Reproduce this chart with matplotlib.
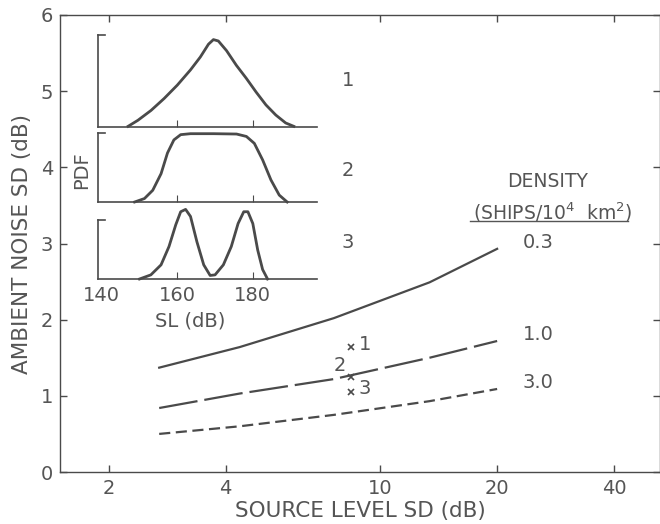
import numpy as np
import matplotlib
matplotlib.use("Agg")
import matplotlib.pyplot as plt
from matplotlib.lines import Line2D

# ambient noise SD vs source level SD, one curve per ship density
density_labels = ["0.3", "1.0", "3.0"]
source_sd = [2.7, 4.35, 7.6, 13.4, 20.0]
ambient_03 = [1.37, 1.64, 2.02, 2.49, 2.93]
ambient_10 = [0.84, 1.03, 1.22, 1.50, 1.72]
ambient_30 = [0.50, 0.60, 0.75, 0.93, 1.09]

# the three source level distributions (marked x1, x2, x3)
case_labels = ["1", "2", "3"]
case_x = [8.4, 8.4, 8.4]
case_y = [1.64, 1.25, 1.05]

# PDF curves (SL in dB, relative height)
pdf1_sl = [146.96, 149.57, 153.04, 156.52, 160.0, 163.48, 166.09, 168.26, 169.57,
           170.87, 173.04, 175.65, 178.26, 180.87, 183.48, 186.09, 188.70, 190.87]
pdf1_val = [0.007, 0.073, 0.18, 0.31, 0.455, 0.62, 0.76, 0.90, 0.95,
            0.935, 0.83, 0.67, 0.53, 0.38, 0.24, 0.13, 0.044, 0.007]
pdf2_sl = [148.7, 151.3, 153.5, 155.7, 157.4, 159.1, 160.9, 163.5, 169.6,
           175.7, 178.3, 180.4, 182.6, 184.8, 187.0, 189.1]
pdf2_val = [0.0, 0.05, 0.17, 0.41, 0.71, 0.90, 0.976, 0.99, 0.99,
            0.985, 0.95, 0.85, 0.61, 0.32, 0.10, 0.0]
pdf3_sl = [150.0, 153.0, 155.7, 157.8, 159.6, 160.9, 162.2, 163.5, 165.2, 167.0,
           168.7, 170.0, 172.2, 174.3, 176.1, 177.6, 178.7, 180.0, 181.3, 182.6, 183.9]
pdf3_val = [0.0, 0.07, 0.24, 0.55, 0.92, 1.14, 1.18, 1.06, 0.63, 0.24,
            0.06, 0.07, 0.24, 0.55, 0.94, 1.14, 1.14, 0.94, 0.49, 0.16, 0.0]

ink = "#4a4a4a"
txt = "#555555"
plt.rcParams["font.family"] = ["DejaVu Sans"]
plt.rcParams["lines.scale_dashes"] = False
fs_tick = 14
fs_lab = 15.5

W, H = 660, 524
fig = plt.figure(figsize=(W / 100, H / 100), dpi=100)

def px_axes(l, t, r, b):
    return fig.add_axes([l / W, 1 - b / H, (r - l) / W, (b - t) / H])

ax = px_axes(60, 15, 660, 472)
ax.plot(source_sd, ambient_03, color=ink, lw=1.6)
ax.plot(source_sd, ambient_10, color=ink, lw=1.6, dashes=(28, 5))
ax.plot(source_sd, ambient_30, color=ink, lw=1.6, dashes=(8, 4))

ax.set_xscale("log")
ax.set_xlim(1.5, 52.5)
ax.set_ylim(0, 6)
ax.set_xticks([2, 4, 10, 20, 40])
ax.set_xticklabels(["2", "4", "10", "20", "40"])
ax.xaxis.set_minor_locator(matplotlib.ticker.NullLocator())
ax.set_yticks(range(7))
ax.tick_params(direction="in", top=True, right=True, length=5, width=1,
               colors=ink, labelcolor=txt, labelsize=fs_tick, pad=5)
for s in ax.spines.values():
    s.set_color(ink)
    s.set_linewidth(1)
ax.set_xlabel("SOURCE LEVEL SD (dB)", fontsize=fs_lab, color=txt, labelpad=2)
ax.set_ylabel("AMBIENT NOISE SD (dB)", fontsize=fs_lab, color=txt, labelpad=6)

# case markers
for lab, x, y in zip(case_labels, case_x, case_y):
    ax.plot(x, y, marker="x", ms=5, mew=1.2, color=ink, ls="none")
for lab, x, y in zip(case_labels, case_x, case_y):
    if lab == "2":
        ax.text(x * 0.97, y + 0.02, lab, ha="right", va="bottom", fontsize=fs_tick, color=txt)
    else:
        ax.text(x * 1.05, y + 0.04, lab, ha="left", va="center", fontsize=fs_tick, color=txt)

# density labels
for lab, y in zip(density_labels, [ambient_03[-1], ambient_10[-1], ambient_30[-1]]):
    ax.text(23.3, y + 0.08, lab, ha="left", va="center", fontsize=fs_tick, color=txt)
ax.text(26.9, 3.81, "DENSITY", ha="center", va="center", fontsize=13.5, color=txt)
ax.text(27.7, 3.41, "(SHIPS/10$^4$  km$^2$)", ha="center", va="center", fontsize=13.5,
        color=txt)
ax.add_line(Line2D([(470 - 60) / 600, (628 - 60) / 600], [(472 - 221) / 457] * 2,
                   transform=ax.transAxes, color=txt, lw=1))

# inset PDF panels
panels = [(35, 127, pdf1_sl, pdf1_val), (133, 202, pdf2_sl, pdf2_val),
          (220, 279, pdf3_sl, pdf3_val)]
label_y = [80, 170, 242]
for i, (t, b, sl, val) in enumerate(panels):
    a = px_axes(98, t, 317, b)
    a.plot(sl, val, color=ink, lw=2, clip_on=False, solid_joinstyle="round")
    a.set_xlim(139, 197)
    a.set_ylim(0, 1)
    a.patch.set_alpha(0)
    a.spines["top"].set_visible(False)
    a.spines["right"].set_visible(False)
    for s in ("left", "bottom"):
        a.spines[s].set_color(ink)
        a.spines[s].set_linewidth(1.2)
    a.set_xticks([160, 180])
    a.set_yticks([])
    a.tick_params(direction="in", length=5, colors=ink, labelcolor=txt,
                  labelsize=fs_tick, pad=5)
    a.plot([0, 0.03], [1, 1], transform=a.transAxes, color=ink, lw=1.2, clip_on=False)
    if i < 2:
        a.set_xticklabels([])
    else:
        a.set_xticklabels(["160", "180"])
        a.text(140, -0.12, "140", ha="center", va="top", fontsize=fs_tick, color=txt,
               transform=a.get_xaxis_transform())
        a.set_xlabel("SL (dB)", fontsize=fs_tick, color=txt)
        a.xaxis.set_label_coords(0.42, -0.55)
    fig.text(348 / W, 1 - label_y[i] / H, case_labels[i], ha="center", va="center",
             fontsize=fs_tick, color=txt)

fig.text(82 / W, 1 - 170 / H, "PDF", rotation=90, ha="center", va="center",
         fontsize=fs_tick, color=txt)

fig.savefig("out.png", dpi=100)
